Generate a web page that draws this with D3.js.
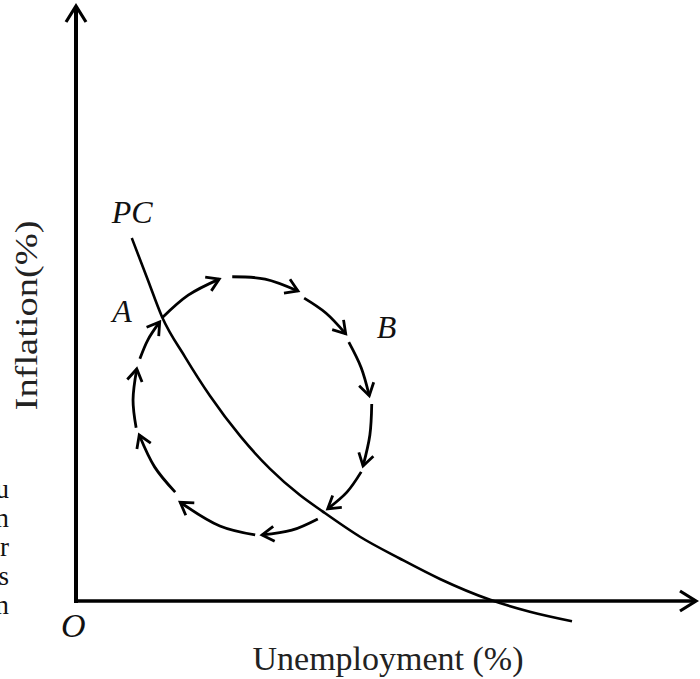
<!DOCTYPE html>
<meta charset="utf-8">
<style>
html, body {
  margin: 0;
  padding: 0;
  background: #fff;
}
svg {
  display: block;
  font-family: "Liberation Serif", "Times New Roman", Times, serif;
}
</style>
<script src="https://d3js.org/d3.v7.min.js"></script>

<div id="chart"></div>

<script>

// Phillips curve (unemployment %, inflation %)
const pcUnemp = [9.0, 11.5, 13.9, 17.6, 21.6, 26.5, 31.3, 36.1, 39.7, 45.8, 52.3, 58.7, 66.8, 73.2, 80.0];
const pcInfl  = [61.0, 54.2, 47.7, 41.0, 34.5, 27.7, 22.2, 17.8, 15.1, 10.8, 7.1, 3.7, 0.2, -1.8, -3.4];

// the clockwise loop, one small arrowed stroke at a time
const loopSegments = [
  [[13.9, 47.6], [18.1, 51.4], [23.1, 54.1]],
  [[25.2, 54.5], [30.5, 54.1], [35.8, 52.1]],
  [[36.8, 50.9], [40.3, 48.4], [43.5, 44.9]],
  [[44.0, 43.5], [46.0, 39.2], [47.3, 34.5]],
  [[47.7, 33.1], [47.4, 27.9], [46.3, 22.7]],
  [[46.0, 21.7], [43.7, 18.3], [40.6, 15.5]],
  [[39.0, 13.8], [34.8, 11.9], [30.0, 11.1]],
  [[28.9, 11.1], [23.2, 12.6], [16.8, 16.6]],
  [[16.0, 18.3], [12.7, 22.5], [10.2, 27.9]],
  [[9.7, 29.1], [9.2, 33.8], [9.8, 39.0]],
  [[10.3, 40.7], [11.6, 43.9], [13.5, 46.9]]
];

const xLabel = "Unemployment (%)";
const yLabel = "Inflation(%)";
const originLabel = "O";
const curveLabel = "PC";
const pointLabels = ["A", "B"];

// cut-off words of the neighbouring page column
const strayText = ["u", "m", "ur", "ss", "m"];

const width = 700, height = 679;

const svg = d3.select("#chart")
  .append("svg")
    .attr("width", width)
    .attr("height", height);

const x = d3.scaleLinear().domain([0, 100]).range([76, 696]);
const y = d3.scaleLinear().domain([0, 100]).range([601, 6]);

const defs = svg.append("defs");

// small open arrowhead for the loop
defs.append("marker")
    .attr("id", "loopArrow")
    .attr("markerUnits", "userSpaceOnUse")
    .attr("viewBox", "-15 -10 18 20")
    .attr("markerWidth", 18)
    .attr("markerHeight", 20)
    .attr("refX", 0)
    .attr("refY", 0)
    .attr("orient", "auto")
  .append("path")
    .attr("d", "M-12,-7.5L0,0L-12,7.5")
    .attr("fill", "none")
    .attr("stroke", "#000")
    .attr("stroke-width", 2.8);

// bigger one for the axes
defs.append("marker")
    .attr("id", "axisArrow")
    .attr("markerUnits", "userSpaceOnUse")
    .attr("viewBox", "-20 -13 24 26")
    .attr("markerWidth", 24)
    .attr("markerHeight", 26)
    .attr("refX", 0)
    .attr("refY", 0)
    .attr("orient", "auto")
  .append("path")
    .attr("d", "M-16,-10L0,0L-16,10")
    .attr("fill", "none")
    .attr("stroke", "#000")
    .attr("stroke-width", 3.2);

defs.append("clipPath")
    .attr("id", "pageClip")
  .append("rect")
    .attr("x", 0).attr("y", 0)
    .attr("width", width).attr("height", height);

// axes
svg.append("line")
    .attr("x1", x(0)).attr("y1", y(0) + 2)
    .attr("x2", x(0)).attr("y2", y(100))
    .attr("stroke", "#000")
    .attr("stroke-width", 4)
    .attr("marker-end", "url(#axisArrow)");

svg.append("line")
    .attr("x1", x(0) - 2).attr("y1", y(0))
    .attr("x2", x(100)).attr("y2", y(0))
    .attr("stroke", "#000")
    .attr("stroke-width", 3.6)
    .attr("marker-end", "url(#axisArrow)");

// Phillips curve
const pcData = pcUnemp.map((u, i) => [u, pcInfl[i]]);

svg.append("path")
    .datum(pcData)
    .attr("fill", "none")
    .attr("stroke", "#000")
    .attr("stroke-width", 2.6)
    .attr("d", d3.line()
      .x(d => x(d[0]))
      .y(d => y(d[1]))
      .curve(d3.curveMonotoneX));

// loop strokes
const loopLine = d3.line()
    .x(d => x(d[0]))
    .y(d => y(d[1]))
    .curve(d3.curveCatmullRom);

svg.selectAll(".loop")
  .data(loopSegments)
  .join("path")
    .attr("class", "loop")
    .attr("fill", "none")
    .attr("stroke", "#000")
    .attr("stroke-width", 2.8)
    .attr("marker-end", "url(#loopArrow)")
    .attr("d", loopLine);

// labels
const italic = sel => sel.attr("font-style", "italic").attr("font-size", 32).attr("fill", "#111");

svg.append("text")
    .call(italic)
    .attr("x", x(pcData[0][0]) - 20)
    .attr("y", y(pcData[0][1]) - 15)
    .text(curveLabel);

svg.append("text")
    .call(italic)
    .attr("x", x(loopSegments[0][0][0]) - 50)
    .attr("y", y(loopSegments[0][0][1]) + 4)
    .text(pointLabels[0]);

svg.append("text")
    .call(italic)
    .attr("x", x(loopSegments[2][2][0]) + 31)
    .attr("y", y(loopSegments[2][2][1]) + 4)
    .text(pointLabels[1]);

svg.append("text")
    .call(italic)
    .attr("font-size", 34)
    .attr("x", x(0) - 15)
    .attr("y", y(0) + 36)
    .text(originLabel);

svg.append("text")
    .attr("x", x(50) + 2)
    .attr("y", 670)
    .attr("text-anchor", "middle")
    .attr("font-size", 34)
    .attr("fill", "#222")
    .text(xLabel);

svg.append("text")
    .attr("transform", `translate(37,${y(48)}) rotate(-90)`)
    .attr("text-anchor", "middle")
    .attr("font-size", 31)
    .attr("fill", "#222")
    .attr("textLength", 190)
    .attr("lengthAdjust", "spacingAndGlyphs")
    .text(yLabel);

svg.append("g")
    .attr("clip-path", "url(#pageClip)")
  .selectAll("text")
  .data(strayText)
  .join("text")
    .attr("x", 9)
    .attr("y", (d, i) => 498 + i * 29)
    .attr("text-anchor", "end")
    .attr("font-size", 27)
    .attr("fill", "#111")
    .text(d => d);

</script>
